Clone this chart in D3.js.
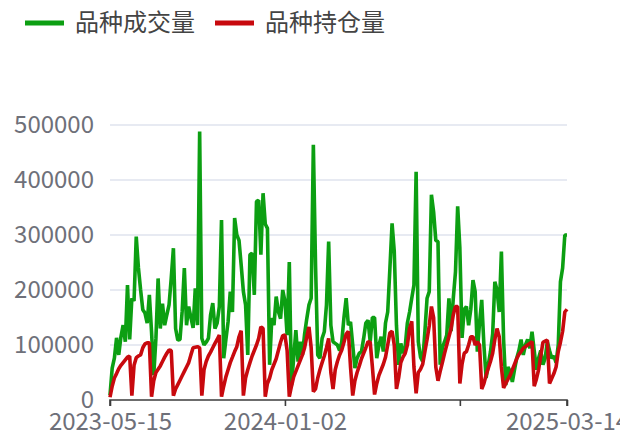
<!DOCTYPE html>
<html><head><meta charset="utf-8">
<script src="https://cdn.jsdelivr.net/npm/d3@7"></script>
<style>body{margin:0;background:#fff;overflow:hidden}</style>
</head><body><svg id="c" width="620" height="439"></svg>
<script>
const dates = [
"2023-05-15","2023-05-18","2023-05-21","2023-05-24","2023-05-27","2023-05-30","2023-06-02","2023-06-05","2023-06-08","2023-06-11",
"2023-06-13","2023-06-16","2023-06-19","2023-06-22","2023-06-25","2023-06-28","2023-07-01","2023-07-04","2023-07-07","2023-07-10",
"2023-07-12","2023-07-15","2023-07-18","2023-07-21","2023-07-24","2023-07-27","2023-07-30","2023-08-02","2023-08-05","2023-08-08",
"2023-08-10","2023-08-13","2023-08-16","2023-08-19","2023-08-22","2023-08-25","2023-08-28","2023-08-31","2023-09-03","2023-09-06",
"2023-09-08","2023-09-11","2023-09-14","2023-09-17","2023-09-20","2023-09-23","2023-09-26","2023-09-29","2023-10-02","2023-10-05",
"2023-10-07","2023-10-10","2023-10-13","2023-10-16","2023-10-19","2023-10-22","2023-10-25","2023-10-28","2023-10-31","2023-11-03",
"2023-11-05","2023-11-08","2023-11-11","2023-11-14","2023-11-17","2023-11-20","2023-11-23","2023-11-26","2023-11-29","2023-12-02",
"2023-12-04","2023-12-07","2023-12-10","2023-12-13","2023-12-16","2023-12-19","2023-12-22","2023-12-25","2023-12-28","2023-12-31",
"2024-01-02","2024-01-06","2024-01-09","2024-01-12","2024-01-16","2024-01-19","2024-01-23","2024-01-26","2024-01-29","2024-02-02",
"2024-02-05","2024-02-09","2024-02-12","2024-02-15","2024-02-19","2024-02-22","2024-02-26","2024-02-29","2024-03-03","2024-03-07",
"2024-03-10","2024-03-14","2024-03-17","2024-03-20","2024-03-24","2024-03-27","2024-03-31","2024-04-03","2024-04-06","2024-04-10",
"2024-04-13","2024-04-17","2024-04-20","2024-04-23","2024-04-27","2024-04-30","2024-05-04","2024-05-07","2024-05-10","2024-05-14",
"2024-05-17","2024-05-21","2024-05-24","2024-05-27","2024-05-31","2024-06-03","2024-06-07","2024-06-10","2024-06-13","2024-06-17",
"2024-06-20","2024-06-24","2024-06-27","2024-06-30","2024-07-04","2024-07-07","2024-07-11","2024-07-14","2024-07-17","2024-07-21",
"2024-07-24","2024-07-28","2024-07-31","2024-08-03","2024-08-07","2024-08-10","2024-08-14","2024-08-17","2024-08-20","2024-08-24",
"2024-08-27","2024-08-31","2024-09-03","2024-09-06","2024-09-10","2024-09-13","2024-09-17","2024-09-20","2024-09-23","2024-09-27",
"2024-09-30","2024-10-04","2024-10-07","2024-10-10","2024-10-14","2024-10-17","2024-10-21","2024-10-24","2024-10-27","2024-10-31",
"2024-11-03","2024-11-07","2024-11-10","2024-11-13","2024-11-17","2024-11-20","2024-11-24","2024-11-27","2024-11-30","2024-12-04",
"2024-12-07","2024-12-11","2024-12-14","2024-12-17","2024-12-21","2024-12-24","2024-12-28","2024-12-31","2025-01-03","2025-01-07",
"2025-01-10","2025-01-14","2025-01-17","2025-01-20","2025-01-24","2025-01-27","2025-01-31","2025-02-03","2025-02-06","2025-02-10",
"2025-02-13","2025-02-17","2025-02-20","2025-02-23","2025-02-27","2025-03-02","2025-03-05","2025-03-08","2025-03-11","2025-03-14"
];
const volume = [
9000,58000,76000,113000,82000,115000,136000,106000,209000,110000,
185000,180000,297000,240000,200000,164000,158000,140000,191000,124000,
45000,112000,221000,130000,175000,136000,155000,173000,221000,276000,
130000,109000,110000,161000,240000,136000,170000,150000,131000,203000,
136000,488000,112000,100000,105000,112000,155000,176000,130000,140000,
170000,327000,76000,110000,142000,197000,160000,331000,300000,290000,
245000,197000,173000,82000,264000,267000,191000,361000,363000,264000,
376000,320000,312000,64000,149000,136000,188000,161000,148000,200000,
180000,118000,251000,27000,76000,127000,70000,106000,82000,120000,
148000,173000,185000,464000,245000,82000,76000,112000,124000,173000,
288000,136000,106000,103000,100000,90000,106000,150000,185000,136000,
142000,100000,58000,76000,85000,88000,112000,140000,145000,106000,
150000,150000,76000,100000,115000,88000,140000,160000,239000,321000,
270000,136000,64000,103000,85000,97000,140000,160000,185000,209000,
415000,106000,78000,70000,124000,185000,197000,373000,342000,290000,
288000,64000,95000,106000,118000,185000,125000,185000,233000,352000,
276000,113000,165000,170000,136000,165000,218000,197000,88000,140000,
182000,100000,40000,64000,88000,120000,215000,200000,160000,270000,
110000,27000,60000,52000,33000,55000,76000,90000,110000,82000,
100000,110000,94000,124000,90000,55000,76000,90000,64000,76000,
106000,90000,76000,80000,68000,100000,215000,240000,300000,300000
];
const openInterest = [
5000,25000,40000,48000,57000,63000,68000,73000,78000,80000,
8000,63000,77000,80000,82000,95000,102000,104000,104000,6000,
35000,50000,56000,62000,70000,78000,85000,91000,90000,8000,
20000,28000,36000,44000,52000,60000,68000,82000,95000,96000,
97000,95000,8000,55000,70000,80000,87000,95000,103000,110000,
118000,6000,25000,42000,55000,68000,78000,88000,97000,115000,
126000,8000,40000,55000,68000,80000,90000,100000,112000,133000,
130000,6000,30000,40000,55000,65000,75000,90000,105000,117000,
118000,90000,6000,25000,42000,52000,62000,72000,82000,95000,
115000,133000,95000,15000,20000,40000,55000,68000,80000,95000,
112000,50000,20000,55000,70000,82000,91000,105000,120000,125000,
60000,8000,35000,50000,62000,75000,85000,95000,106000,105000,
60000,10000,30000,45000,55000,65000,78000,100000,122000,125000,
100000,20000,40000,68000,78000,85000,100000,130000,143000,60000,
12000,50000,56000,65000,88000,110000,135000,170000,150000,60000,
35000,52000,68000,85000,100000,115000,130000,155000,170000,170000,
30000,65000,85000,88000,100000,115000,115000,100000,106000,100000,
20000,30000,45000,58000,70000,85000,110000,130000,115000,60000,
22000,30000,38000,45000,55000,65000,75000,83000,88000,94000,
97000,100000,103000,106000,25000,38000,55000,80000,105000,107000,
109000,30000,39000,48000,60000,88000,105000,125000,160000,165000
];
const yTicks = [0,100000,200000,300000,400000,500000];
const xTickDates = ["2023-05-15","2024-01-02","2024-09-30","2025-03-14"];
const xLabelDates = ["2023-05-15","2024-01-02","2025-03-14"];
const seriesNames = ["品种成交量","品种持仓量"];
const seriesColors = ["#0c9f12","#c8090e"];

const svg = d3.select("#c");
const L = 110, R = 567, T = 125, B = 400;
const x = d3.scalePoint().domain(dates).range([L, R]);
const y = d3.scaleLinear().domain([0, 500000]).range([B, T]);
const font = "'Noto Sans CJK SC','Noto Sans',sans-serif";

// grid
svg.append("g").selectAll("line").data(yTicks.filter(d => d > 0)).join("line")
  .attr("x1", L).attr("x2", R).attr("y1", d => y(d)).attr("y2", d => y(d))
  .attr("stroke", "#dfe3ee").attr("stroke-width", 1.5);

// y axis labels
const yAxis = d3.axisLeft(y).tickValues(yTicks).tickSize(0).tickPadding(16).tickFormat(d3.format("d"));
const gy = svg.append("g").attr("transform", `translate(${L},0)`).call(yAxis);
gy.select(".domain").remove();
gy.selectAll("text").attr("fill", "#6e7079").style("font-size", "24px").style("font-family", font);

// lines
const series = [volume, openInterest];
series.forEach((vals, k) => {
  const line = d3.line().x((d, i) => x(dates[i])).y(d => y(d));
  svg.append("path").datum(vals).attr("d", line)
    .attr("fill", "none").attr("stroke", seriesColors[k]).attr("stroke-width", 3.6)
    .attr("stroke-linejoin", "bevel");
});

// x axis
const xAxis = d3.axisBottom(x).tickValues(xTickDates).tickSize(6).tickPadding(7)
  .tickFormat(d => xLabelDates.includes(d) ? d : "");
const gx = svg.append("g").attr("transform", `translate(0,${B})`).call(xAxis);
gx.select(".domain").attr("stroke", "#3c3c3c").attr("stroke-width", 1.6)
  .attr("d", `M${L},6V0H${R}V6`);
gx.selectAll(".tick line").attr("stroke", "#3c3c3c").attr("stroke-width", 1.6);
gx.selectAll("text").attr("fill", "#6e7079").style("font-size", "24px").style("font-family", font);

// legend
const legX = [25, 215];
seriesNames.forEach((name, k) => {
  const g = svg.append("g").attr("transform", `translate(${legX[k]},23)`);
  g.append("line").attr("x1", 0).attr("x2", 39).attr("y1", 0).attr("y2", 0)
    .attr("stroke", seriesColors[k]).attr("stroke-width", 5);
  g.append("text").attr("x", 50).attr("y", 0).attr("dy", "0.35em")
    .attr("fill", "#444").style("font-size", "24px").style("font-family", font).text(name);
});
</script></body></html>
